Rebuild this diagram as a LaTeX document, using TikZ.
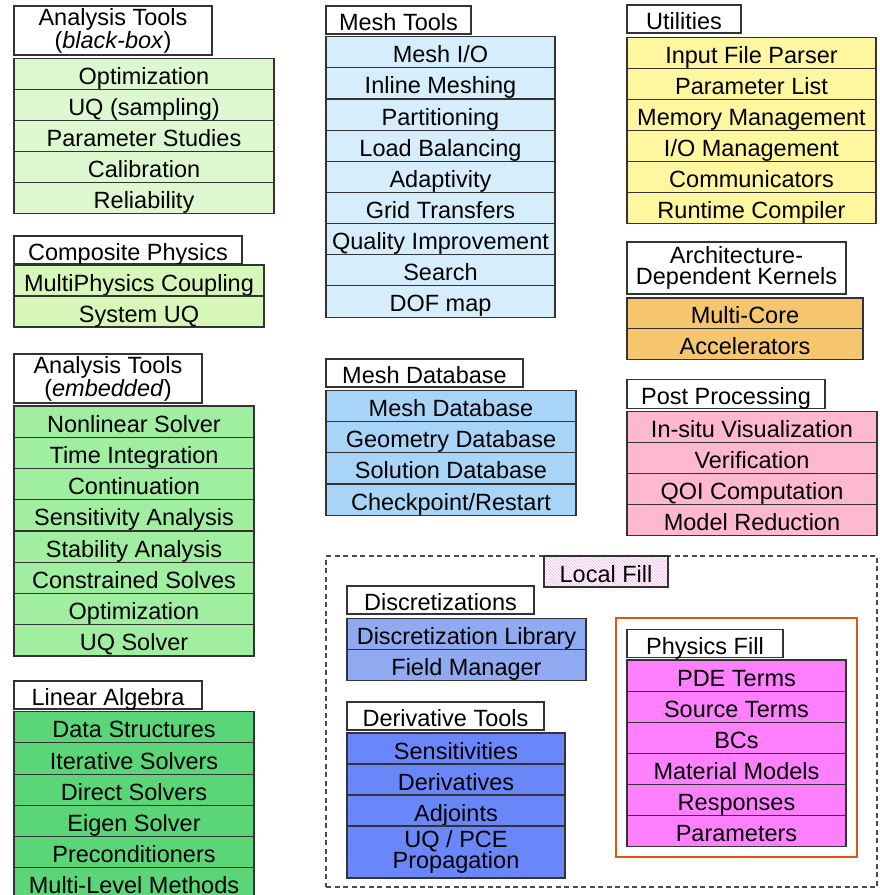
\documentclass[tikz,border=0pt]{standalone}
\usepackage{fontspec}
\setmainfont{Liberation Sans}
\usetikzlibrary{patterns}
\definecolor{boxline}{HTML}{333333}
\definecolor{cbb}{HTML}{DDF8D0}
\definecolor{ccp}{HTML}{D7F7B9}
\definecolor{cem}{HTML}{A0EEA0}
\definecolor{cla}{HTML}{5AD678}
\definecolor{cmt}{HTML}{D6EEFC}
\definecolor{cmd}{HTML}{A8D4F8}
\definecolor{cut}{HTML}{FFF7A0}
\definecolor{car}{HTML}{F5C66E}
\definecolor{cpp}{HTML}{FFB8D0}
\definecolor{cds}{HTML}{8FAAF0}
\definecolor{cdt}{HTML}{6A87FA}
\definecolor{cpf}{HTML}{FF80FF}
\definecolor{corange}{HTML}{E05514}
\definecolor{chatch}{HTML}{FFA8E6}
\tikzset{
  box/.style={draw=boxline, line width=1.1pt, inner sep=0pt, outer sep=0pt, anchor=north west,
    font=\fontsize{23.5}{21}\selectfont, text height=21pt, text depth=0pt},
  ttl/.style={box, fill=white},
  ttltwo/.style={draw=boxline, line width=1.1pt, inner sep=0pt, outer sep=0pt, anchor=north west,
    fill=white, align=center, font=\fontsize{23.5}{21.5}\selectfont},
  dashframe/.style={draw=black!70, line width=1.1pt, dash pattern=on 5pt off 3.5pt, inner sep=0pt, outer sep=0pt, anchor=north west},
  orangeframe/.style={draw=corange, line width=2.5pt, inner sep=0pt, outer sep=0pt, anchor=north west},
}
% prefix, x, y, width, row height, fill, labels
\newcommand\mkstack[7]{%
  \foreach \lbl [count=\i] in {#7} {%
    \node[box, fill=#6, minimum width=#4, minimum height=#5] (#1\i) at (#2, {#3+(\i-1)*#5}) {\lbl};
  }%
}
\begin{document}
\begin{tikzpicture}[x=1pt,y=-1pt]
\useasboundingbox (0,0) rectangle (879,895);
\clip (0,0) rectangle (879,895);

% ---- column 1
\node[ttltwo, minimum width=198, minimum height=49] (bbT) at (14,6) {Analysis Tools\\(\textit{black-box})};
\mkstack{bb}{14}{58.3}{260}{31.0}{cbb}{Optimization, UQ (sampling), Parameter Studies, Calibration, Reliability}

\node[ttl, minimum width=228, minimum height=28] (cpT) at (14,236) {Composite Physics};
\mkstack{cp}{14}{265}{250}{31}{ccp}{MultiPhysics Coupling, System UQ}

\node[ttltwo, minimum width=188, minimum height=49] (emT) at (14,354) {Analysis Tools\\(\textit{embedded})};
\mkstack{em}{14}{406}{240}{31.25}{cem}{Nonlinear Solver, Time Integration, Continuation, Sensitivity Analysis, Stability Analysis, Constrained Solves, Optimization, UQ Solver}

\node[ttl, minimum width=188, minimum height=28] (laT) at (14,681) {Linear Algebra};
\mkstack{la}{14}{711.7}{240}{31.2}{cla}{Data Structures, Iterative Solvers, Direct Solvers, Eigen Solver, Preconditioners, Multi-Level Methods}

% ---- column 2
\node[ttl, minimum width=145, minimum height=28] (mtT) at (326,6) {Mesh Tools};
\mkstack{mt}{326}{36.7}{229}{31.15}{cmt}{Mesh I/O, Inline Meshing, Partitioning, Load Balancing, Adaptivity, Grid Transfers, Quality Improvement, Search, DOF map}

\node[ttl, minimum width=197, minimum height=28] (mdT) at (326,359) {Mesh Database};
\mkstack{md}{326}{390.7}{250}{31.1}{cmd}{Mesh Database, Geometry Database, Solution Database, Checkpoint/Restart}

% ---- column 3
\node[ttl, minimum width=114, minimum height=28] (utT) at (627,5) {Utilities};
\mkstack{ut}{627}{37.3}{249}{31.1}{cut}{Input File Parser, Parameter List, Memory Management, I/O Management, Communicators, Runtime Compiler}

\node[ttltwo, minimum width=219, minimum height=52] (arT) at (627,242) {Architecture-\\Dependent Kernels};
\mkstack{ar}{627}{298}{236}{30.7}{car}{Multi-Core, Accelerators}

\node[ttl, minimum width=198, minimum height=29] (ppT) at (627,379.5) {Post Processing};
\mkstack{pp}{627}{411.5}{250}{30.9}{cpp}{In-situ Visualization, Verification, QOI Computation, Model Reduction}

% ---- local fill region
\node[dashframe, minimum width=551, minimum height=331] (lfbox) at (326,556) {};
\node[box, pattern=north west lines, pattern color=chatch, minimum width=124, minimum height=31] (lf) at (544,556) {Local Fill};

\node[ttl, minimum width=187, minimum height=28] (dsT) at (347,586) {Discretizations};
\mkstack{ds}{347}{618.3}{239}{31.2}{cds}{Discretization Library, Field Manager}

\node[ttl, minimum width=197, minimum height=28] (dtT) at (347,702) {Derivative Tools};
\mkstack{dt}{347}{733}{218}{31}{cdt}{Sensitivities, Derivatives, Adjoints}
\node[ttltwo, fill=cdt, minimum width=218, minimum height=52] (dt4) at (347,826) {UQ / PCE\\Propagation};

\node[orangeframe, minimum width=241, minimum height=239] (pfbox) at (616,618) {};
\node[ttl, minimum width=156, minimum height=28] (pfT) at (627,629.5) {Physics Fill};
\mkstack{pf}{627}{660}{219}{31.1}{cpf}{PDE Terms, Source Terms, BCs, Material Models, Responses, Parameters}
\end{tikzpicture}
\end{document}
